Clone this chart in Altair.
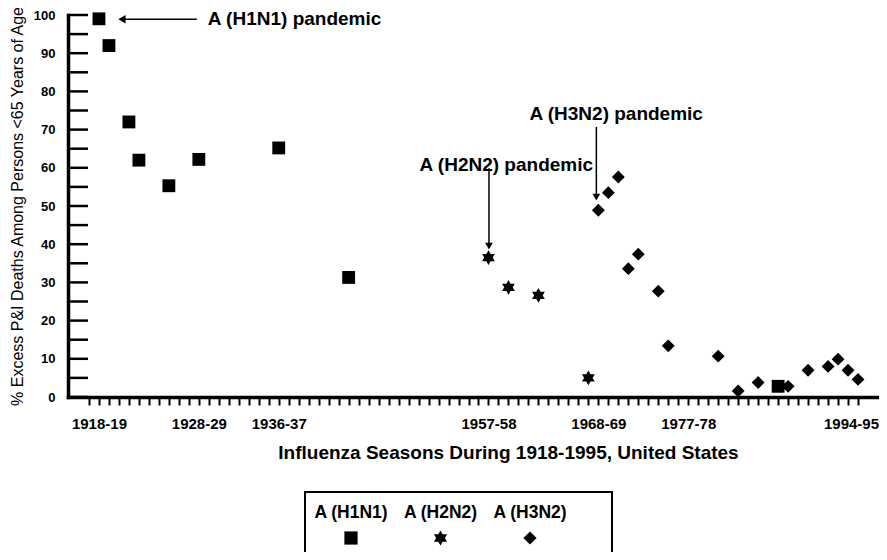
import math
import altair as alt
import pandas as pd

# ---------------- data ----------------
series = ["A (H1N1)", "A (H2N2)", "A (H3N2)"]

h1n1_years = [1918, 1919, 1921, 1922, 1925, 1928, 1936, 1943, 1986]
h1n1_values = [99, 92, 72, 62, 55.3, 62.2, 65.2, 31.3, 2.8]

h2n2_years = [1957, 1959, 1962, 1967]
h2n2_values = [36.5, 28.7, 26.6, 5.0]

h3n2_years = [1968, 1969, 1970, 1971, 1972, 1974, 1975, 1980, 1982, 1984,
              1987, 1989, 1991, 1992, 1993, 1994]
h3n2_values = [48.9, 53.5, 57.6, 33.6, 37.4, 27.7, 13.4, 10.7, 1.6, 3.8,
               2.8, 7.0, 8.0, 9.9, 7.0, 4.6]

season_ticks = list(range(1917, 1995))
label_years = [1918, 1928, 1936, 1957, 1968, 1977, 1994]
label_texts = ["1918-19", "1928-29", "1936-37", "1957-58", "1968-69", "1977-78", "1994-95"]

y_label_values = list(range(0, 101, 10))
y_tick_values = list(range(0, 101, 5))

ann_texts = ["A (H1N1) pandemic", "A (H2N2) pandemic", "A (H3N2) pandemic"]
ann_x = [1928.9, 1950.1, 1961.1]
ann_y = [99.0, 60.7, 74.0]

# arrows: start -> tip
arrow_x1 = [1927.8, 1957.05, 1967.8]
arrow_x2 = [1920.3, 1957.05, 1967.8]
arrow_y1 = [98.9, 59.9, 70.7]
arrow_y2 = [98.9, 39.5, 52.3]
arrow_dir = ["left", "down", "down"]

x_domain = [1914.9, 1996.0]
y_domain = [0, 100]

FONT = "Liberation Sans"

# ---------------- frames ----------------
pts = pd.DataFrame({
    "year": h1n1_years + h2n2_years + h3n2_years,
    "value": h1n1_values + h2n2_values + h3n2_values,
    "series": [series[0]] * len(h1n1_years) + [series[1]] * len(h2n2_years)
              + [series[2]] * len(h3n2_years),
})
ticks_df = pd.DataFrame({"v": y_tick_values})
ann_df = pd.DataFrame({"x": ann_x, "y": ann_y, "t": ann_texts})
arr_df = pd.DataFrame({"x1": arrow_x1, "x2": arrow_x2, "y1": arrow_y1,
                       "y2": arrow_y2, "dir": arrow_dir})
leg_df = pd.DataFrame({"series": series})

# six-pointed star (asterisk-like) symbol path
star_pts = []
for k in range(12):
    ang = math.radians(-90 + k * 30)
    r = 1.15 if k % 2 == 0 else 0.66
    star_pts.append(f"{r * math.cos(ang):.3f},{r * math.sin(ang):.3f}")
star_path = "M" + "L".join(star_pts) + "Z"

shape_scale = alt.Scale(domain=series, range=["square", star_path, "diamond"])
xs = alt.Scale(domain=x_domain, nice=False, zero=False)
ys = alt.Scale(domain=y_domain, nice=False, zero=True)

label_expr = "".join(f"datum.value == {y} ? '{t}' : " for y, t in zip(label_years, label_texts)) + "''"

x_axis = alt.Axis(
    values=season_ticks, labelExpr=label_expr, grid=False,
    title="Influenza Seasons During 1918-1995, United States",
    tickSize=8, tickWidth=2, tickColor="black",
    domainColor="black", domainWidth=3.5, domainCap="square",
    labelFont=FONT, labelFontSize=15, labelFontWeight="bold", labelColor="black",
    labelPadding=11, labelOverlap=False, labelFlush=False, labelBound=False,
    labelOffset={"condition": {"test": f"datum.value == {label_years[-1]}", "value": -7}, "value": 0},
    titleFont=FONT, titleFontSize=19, titleFontWeight="bold", titleColor="black",
    titlePadding=12, titleX=440, titleAlign="center",
)
y_axis = alt.Axis(
    values=y_label_values, grid=False, ticks=False,
    title="% Excess P&I Deaths Among Persons <65 Years of Age",
    domainColor="black", domainWidth=3.5, domainCap="square",
    labelFont=FONT, labelFontSize=13, labelFontWeight="bold", labelColor="black",
    labelPadding=13,
    titleFont=FONT, titleFontSize=16, titleFontWeight="normal", titleColor="black",
    titlePadding=8,
)

points = alt.Chart(pts).mark_point(filled=True, opacity=1, color="black", size=165).encode(
    x=alt.X("year:Q", scale=xs, axis=x_axis),
    y=alt.Y("value:Q", scale=ys, axis=y_axis),
    shape=alt.Shape("series:N", scale=shape_scale, legend=None),
)

yticks = alt.Chart(ticks_df).mark_rule(color="black", strokeWidth=2.5).encode(
    y=alt.Y("v:Q", scale=ys, axis=y_axis),
    x=alt.value(0), x2=alt.value(20),
)

arrows = alt.Chart(arr_df).mark_rule(color="black", strokeWidth=1.5).encode(
    x=alt.X("x1:Q", scale=xs, axis=x_axis), x2="x2:Q",
    y=alt.Y("y1:Q", scale=ys, axis=y_axis), y2="y2:Q",
)

head_left = alt.Chart(arr_df).transform_filter("datum.dir == 'left'").mark_point(
    shape="triangle-left", filled=True, color="black", opacity=1, size=70
).encode(
    x=alt.X("x2:Q", scale=xs, axis=x_axis),
    y=alt.Y("y2:Q", scale=ys, axis=y_axis),
)
head_down = alt.Chart(arr_df).transform_filter("datum.dir == 'down'").mark_point(
    shape="triangle-down", filled=True, color="black", opacity=1, size=60
).encode(
    x=alt.X("x2:Q", scale=xs, axis=x_axis),
    y=alt.Y("y2:Q", scale=ys, axis=y_axis),
)

ann = alt.Chart(ann_df).mark_text(
    align="left", baseline="middle", font=FONT, fontSize=19, fontWeight="bold", color="black"
).encode(
    x=alt.X("x:Q", scale=xs, axis=x_axis),
    y=alt.Y("y:Q", scale=ys, axis=y_axis),
    text="t:N",
)

inner = alt.layer(points, yticks, arrows, head_left, head_down, ann)

leg_x = alt.Scale(domain=series, range=[283, 462], padding=0)

leg_text = alt.Chart(leg_df).mark_text(
    align="center", baseline="middle", font=FONT, fontSize=17.5, fontWeight="bold", color="black"
).encode(
    x=alt.X("series:N", scale=leg_x, axis=None),
    y=alt.value(498),
    text="series:N",
)
leg_sym = alt.Chart(leg_df).mark_point(filled=True, opacity=1, color="black", size=175).encode(
    x=alt.X("series:N", scale=leg_x, axis=None),
    y=alt.value(523),
    shape=alt.Shape("series:N", scale=shape_scale, legend=None),
)
box = alt.Chart(pd.DataFrame({"a": [0]})).mark_rect(
    fillOpacity=0, stroke="black", strokeWidth=2
).encode(
    x=alt.value(237), x2=alt.value(544), y=alt.value(477), y2=alt.value(600),
)

chart = alt.layer(inner, leg_text, leg_sym, box).resolve_scale(x="independent").properties(
    width=810, height=382,
    padding={"left": 60, "top": 7, "right": 1, "bottom": 155},
    autosize="none", background="white",
).configure_view(strokeWidth=0)

chart.save("out.html", embed_options={"renderer": "svg", "actions": False})
